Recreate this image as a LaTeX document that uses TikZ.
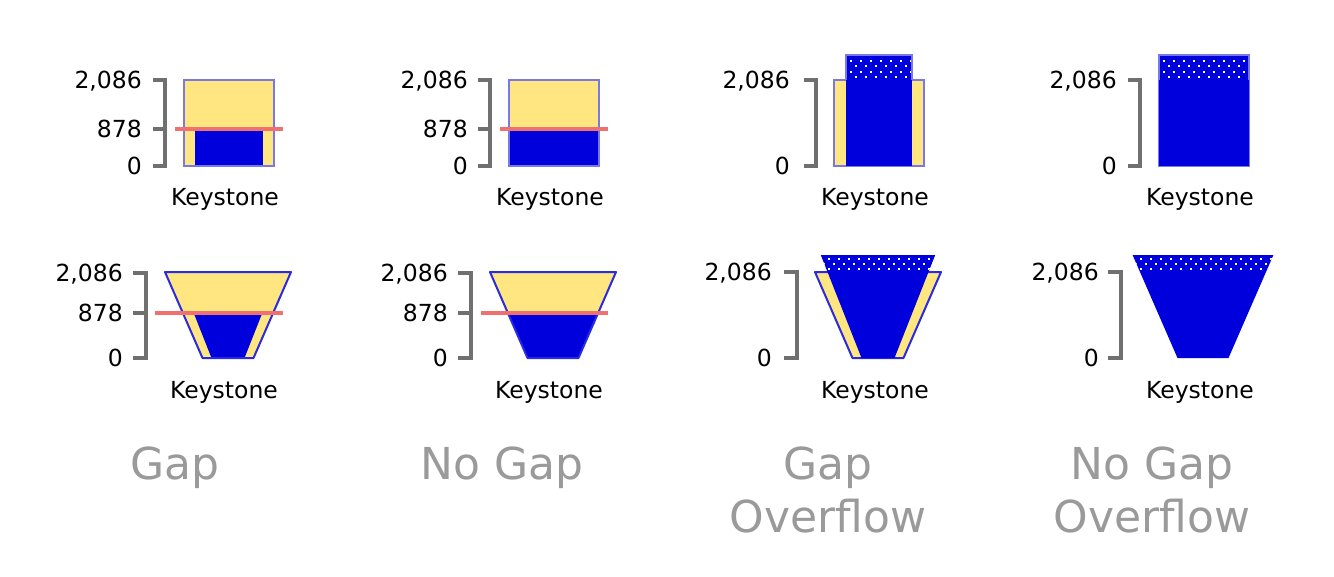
\documentclass[tikz,border=0pt]{standalone}
\usepackage{fontspec}
\setmainfont{DejaVu Sans}
\definecolor{barYellow}{HTML}{FFE680}
\definecolor{barBlue}{HTML}{0000DD}
\definecolor{edgeBlue}{HTML}{7878E8}
\definecolor{trapEdge}{HTML}{2A2AE0}
\definecolor{redLine}{HTML}{F07070}
\definecolor{axisGray}{HTML}{707070}
\definecolor{capGray}{HTML}{9A9A9A}
\tikzset{
 axisline/.style={draw=axisGray, line width=3.5pt},
 lbl/.style={font=\fontsize{23.5}{28}\selectfont, inner sep=0pt, anchor=base east},
 keylbl/.style={font=\fontsize{23.5}{28}\selectfont, inner sep=0pt, anchor=base},
 caption/.style={font=\fontsize{44}{53}\selectfont, text=capGray, inner sep=0pt, anchor=north, align=center},
 redl/.style={draw=redLine, line width=4pt},
 recedge/.style={draw=edgeBlue, line width=2.5pt},
 trapedge/.style={draw=trapEdge, line width=2pt, line join=round},
}
% dots: x0, (unused), first row y, last row index
\newcommand\DotRows[4]{%
  \foreach \r in {0,...,#4} {%
    \foreach \k in {0,...,16} {%
      \fill[white] ({#1 + \k*10 + mod(\r,2)*5}, {#3 - 1 + \r*5.4}) rectangle ++(2,2);
    }%
  }%
}
\begin{document}
\begin{tikzpicture}[x=1pt,y=-1pt]
\useasboundingbox (0,0) rectangle (1334,576);
\fill[white] (0,0) rectangle (1334,576);

% ================= Row 1 =================
% ---- Panel 1: Gap (rect), c=229
\fill[barYellow] (184,80) rectangle (274,166);
\fill[barBlue] (195,129) rectangle (263,166);
\draw[recedge] (184,80) rectangle (274,166);
\draw[redl] (175,129) -- (283,129);
\draw[axisline] (153,80) -- (165,80) -- (165,166) -- (153,166);
\draw[axisline] (153,129) -- (165,129);
\node[lbl] (p1a) at (142,88.6) {2,086};
\node[lbl] (p1b) at (142,137.6) {878};
\node[lbl] (p1c) at (142,174.6) {0};
\node[keylbl] (p1k) at (225,205.6) {Keystone};

% ---- Panel 2: No Gap (rect), c=554
\fill[barYellow] (509,80) rectangle (599,166);
\fill[barBlue] (509,129) rectangle (599,166);
\draw[recedge] (509,80) rectangle (599,166);
\draw[redl] (500,129) -- (608,129);
\draw[axisline] (478,80) -- (490,80) -- (490,166) -- (478,166);
\draw[axisline] (478,129) -- (490,129);
\node[lbl] (p2a) at (468,88.6) {2,086};
\node[lbl] (p2b) at (468,137.6) {878};
\node[lbl] (p2c) at (468,174.6) {0};
\node[keylbl] (p2k) at (550,205.6) {Keystone};

% ---- Panel 3: Gap Overflow (rect), c=879
\fill[barYellow] (834,80) rectangle (924,166);
\fill[barBlue] (846,55) rectangle (912,166);
\begin{scope}
  \clip (846,55) rectangle (912,80);
  \DotRows{840}{912}{61}{3}
\end{scope}
\draw[recedge] (834,166) -- (834,80) -- (846,80) -- (846,55) -- (912,55) -- (912,80) -- (924,80) -- (924,166) -- cycle;
\fill[barBlue] (846,80) rectangle (912,166);
\draw[axisline] (804,80) -- (816,80) -- (816,166) -- (804,166);
\node[lbl] (p3a) at (790,88.6) {2,086};
\node[lbl] (p3c) at (790,174.6) {0};
\node[keylbl] (p3k) at (875,205.6) {Keystone};

% ---- Panel 4: No Gap Overflow (rect), c=1204
\fill[barBlue] (1159,55) rectangle (1249,166);
\begin{scope}
  \clip (1159,55) rectangle (1249,80);
  \DotRows{1153}{1249}{61}{3}
\end{scope}
\draw[draw=edgeBlue, line width=1.5pt] (1159,166) rectangle (1249,55);
\fill[barBlue] (1159,80) rectangle (1249,166);
\draw[axisline] (1128,80) -- (1140,80) -- (1140,166) -- (1128,166);
\node[lbl] (p4a) at (1117,88.6) {2,086};
\node[lbl] (p4c) at (1117,174.6) {0};
\node[keylbl] (p4k) at (1200,205.6) {Keystone};

% ================= Row 2 =================
% ---- Panel 5: Gap (trapezoid), c=228
\fill[barYellow] (165,272) -- (291,272) -- (253.5,358) -- (202.5,358) -- cycle;
\fill[barBlue] (193.7,313) -- (262.3,313) -- (244.5,358) -- (211.5,358) -- cycle;
\draw[trapedge] (165,272) -- (291,272) -- (253.5,358) -- (202.5,358) -- cycle;
\draw[redl] (155,313) -- (283,313);
\draw[axisline] (133,273) -- (146,273) -- (146,358) -- (133,358);
\draw[axisline] (133,313) -- (146,313);
\node[lbl] (p5a) at (123,281.6) {2,086};
\node[lbl] (p5b) at (123,321.6) {878};
\node[lbl] (p5c) at (123,366.6) {0};
\node[keylbl] (p5k) at (224,398.6) {Keystone};

% ---- Panel 6: No Gap (trapezoid), c=553
\fill[barYellow] (490,272) -- (616,272) -- (578.5,358) -- (527.5,358) -- cycle;
\fill[barBlue] (507.9,313) -- (598.1,313) -- (578.5,358) -- (527.5,358) -- cycle;
\draw[trapedge] (490,272) -- (616,272) -- (578.5,358) -- (527.5,358) -- cycle;
\draw[redl] (481,313) -- (608,313);
\draw[axisline] (458,273) -- (471,273) -- (471,358) -- (458,358);
\draw[axisline] (458,313) -- (471,313);
\node[lbl] (p6a) at (448,281.6) {2,086};
\node[lbl] (p6b) at (448,321.6) {878};
\node[lbl] (p6c) at (448,366.6) {0};
\node[keylbl] (p6k) at (549,398.6) {Keystone};

% ---- Panel 7: Gap Overflow (trapezoid), c=878
\fill[barYellow] (815,272) -- (941,272) -- (903.5,358) -- (852.5,358) -- cycle;
\draw[trapedge] (815,272) -- (941,272) -- (903.5,358) -- (852.5,358) -- cycle;
\fill[barBlue] (820.8,255) -- (935.2,255) -- (894.5,358) -- (861.5,358) -- cycle;
\begin{scope}
  \clip (820.8,255) -- (935.2,255) -- (894.5,358) -- (861.5,358) -- cycle;
  \clip (800,255) rectangle (960,271);
  \DotRows{818}{940}{258.5}{2}
\end{scope}
\draw[axisline] (784,272) -- (797,272) -- (797,358) -- (784,358);
\node[lbl] (p7a) at (772,280.6) {2,086};
\node[lbl] (p7c) at (772,366.6) {0};
\node[keylbl] (p7k) at (875,398.6) {Keystone};

% ---- Panel 8: No Gap Overflow (trapezoid), c=1203
\fill[barBlue] (1132.6,255) -- (1273.4,255) -- (1228.5,358) -- (1177.5,358) -- cycle;
\begin{scope}
  \clip (1132.6,255) -- (1273.4,255) -- (1228.5,358) -- (1177.5,358) -- cycle;
  \clip (1120,255) rectangle (1290,271);
  \DotRows{1130}{1275}{258.5}{2}
\end{scope}
\draw[axisline] (1108,272) -- (1121,272) -- (1121,358) -- (1108,358);
\node[lbl] (p8a) at (1099,280.6) {2,086};
\node[lbl] (p8c) at (1099,366.6) {0};
\node[keylbl] (p8k) at (1200,398.6) {Keystone};

% ================= Captions =================
\node[caption] (c1) at (175,447) {Gap};
\node[caption] (c2) at (502,447) {No Gap};
\node[caption] (c3) at (828,447) {Gap\\Overflow};
\node[caption] (c4) at (1152,447) {No Gap\\Overflow};
\end{tikzpicture}
\end{document}
